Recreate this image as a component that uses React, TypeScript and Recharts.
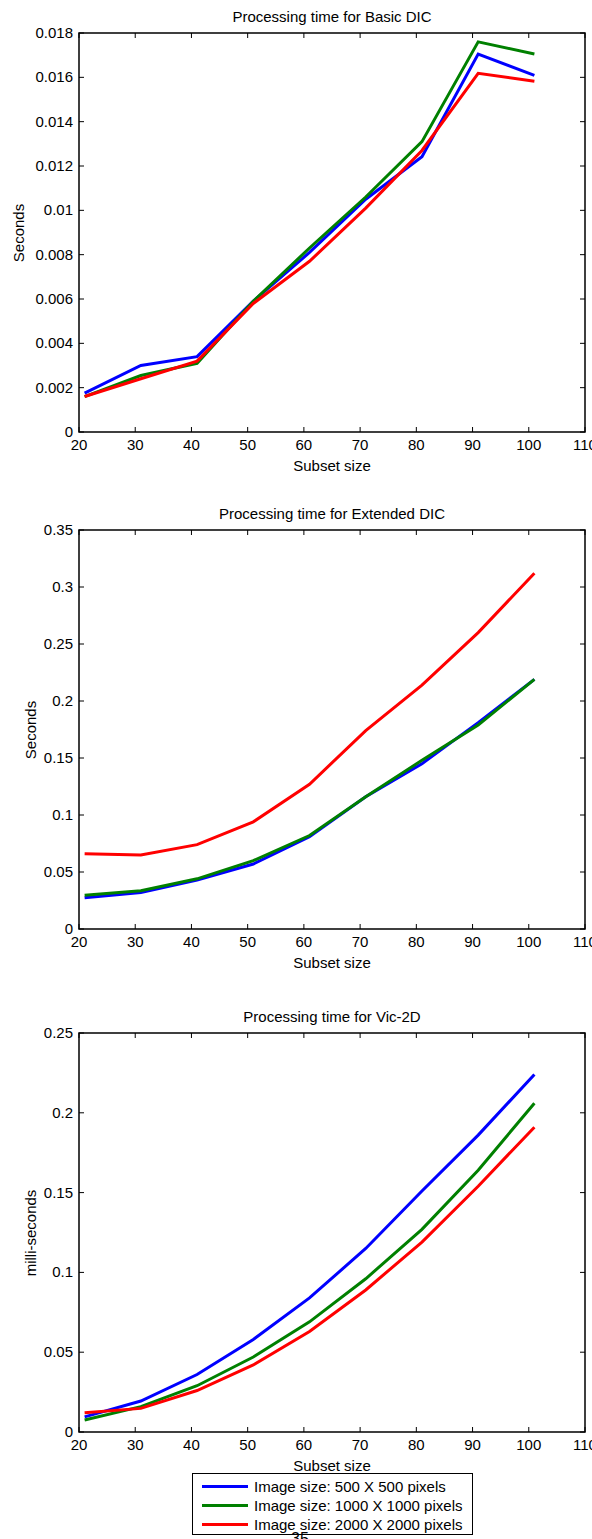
import React from 'react';
import { LineChart, Line, XAxis, YAxis, ReferenceArea } from 'recharts';

// subset sizes used for every run
const subsetSizes = [21, 31, 41, 51, 61, 71, 81, 91, 101];
const xTicks = [20, 30, 40, 50, 60, 70, 80, 90, 100, 110];

const seriesNames = [
  'Image size: 500 X 500 pixels',
  'Image size: 1000 X 1000 pixels',
  'Image size: 2000 X 2000 pixels',
];
const seriesColors = ['#0000ff', '#008000', '#ff0000'];

// Basic DIC (seconds)
const basic500 = [0.00175, 0.003, 0.0034, 0.0059, 0.0081, 0.0105, 0.01242, 0.01705, 0.01609];
const basic1000 = [0.0016, 0.00255, 0.0031, 0.0059, 0.0083, 0.0106, 0.0131, 0.0176, 0.01705];
const basic2000 = [0.0016, 0.0024, 0.0032, 0.0058, 0.0077, 0.0101, 0.0127, 0.01618, 0.01582];
const basicTicks = [0, 0.002, 0.004, 0.006, 0.008, 0.01, 0.012, 0.014, 0.016, 0.018];

// Extended DIC (seconds)
const ext500 = [0.0275, 0.032, 0.043, 0.057, 0.081, 0.116, 0.145, 0.181, 0.219];
const ext1000 = [0.0295, 0.0335, 0.044, 0.06, 0.082, 0.116, 0.148, 0.179, 0.219];
const ext2000 = [0.066, 0.065, 0.074, 0.094, 0.127, 0.174, 0.214, 0.26, 0.312];
const extTicks = [0, 0.05, 0.1, 0.15, 0.2, 0.25, 0.3, 0.35];

// Vic-2D (milli-seconds)
const vic500 = [0.0095, 0.0194, 0.036, 0.058, 0.084, 0.115, 0.151, 0.186, 0.224];
const vic1000 = [0.0075, 0.0159, 0.029, 0.047, 0.069, 0.096, 0.127, 0.164, 0.206];
const vic2000 = [0.012, 0.0148, 0.026, 0.042, 0.063, 0.089, 0.119, 0.154, 0.191];
const vicTicks = [0, 0.05, 0.1, 0.15, 0.2, 0.25];

const FONT = "'Liberation Sans', Arial, Helvetica, sans-serif";
const PLOT_LEFT = 79;
const PLOT_RIGHT = 585;
const PLOT_W = PLOT_RIGHT - PLOT_LEFT;
const TICK_LEN = 5;

const fmt = (v: number) => String(+v.toFixed(4));

interface PanelProps {
  top: number;
  height: number;
  plotTop: number; // relative to panel
  plotHeight: number;
  title: string;
  yLabel: string;
  yLabelX: number;
  series: number[][];
  yTicks: number[];
}

const Panel: React.FC<PanelProps> = ({ top, height, plotTop, plotHeight, title, yLabel, yLabelX, series, yTicks }) => {
  const rows = subsetSizes.map((x, i) => {
    const r: any = { x };
    series.forEach((s, k) => { r['s' + k] = s[i]; });
    return r;
  });
  const yMax = yTicks[yTicks.length - 1];
  const xAxisH = 40;
  const bottom = height - plotTop - plotHeight - xAxisH;

  const XTick = (p: any) => {
    const { x, y, payload } = p;
    return (
      <g>
        <line x1={x} x2={x} y1={y} y2={y - TICK_LEN} stroke="#000" />
        <line x1={x} x2={x} y1={y - plotHeight} y2={y - plotHeight + TICK_LEN} stroke="#000" />
        <text x={x} y={y + 18} textAnchor="middle" fontSize={15} fontFamily={FONT} fill="#000">
          {payload.value}
        </text>
      </g>
    );
  };

  const YTick = (p: any) => {
    const { x, y, payload } = p;
    return (
      <g>
        <line x1={x} x2={x + TICK_LEN} y1={y} y2={y} stroke="#000" />
        <line x1={x + PLOT_W} x2={x + PLOT_W - TICK_LEN} y1={y} y2={y} stroke="#000" />
        <text x={x - 6} y={y + 5} textAnchor="end" fontSize={15} fontFamily={FONT} fill="#000">
          {fmt(payload.value)}
        </text>
      </g>
    );
  };

  const textStyle: React.CSSProperties = {
    position: 'absolute',
    fontFamily: FONT,
    fontSize: 15,
    lineHeight: '15px',
    whiteSpace: 'nowrap',
    color: '#000',
  };

  return (
    <div style={{ position: 'absolute', left: 0, top, width: 592, height }}>
      <LineChart
        width={592}
        height={height}
        data={rows}
        margin={{ top: plotTop, right: 592 - PLOT_RIGHT, left: 0, bottom }}
      >
        <XAxis
          type="number"
          dataKey="x"
          domain={[20, 110]}
          ticks={xTicks}
          interval={0}
          height={xAxisH}
          axisLine={false}
          tickLine={false}
          tickSize={0}
          tickMargin={0}
          tick={XTick}
        />
        <YAxis
          type="number"
          domain={[0, yMax]}
          ticks={yTicks}
          interval={0}
          width={PLOT_LEFT}
          axisLine={false}
          tickLine={false}
          tickSize={0}
          tickMargin={0}
          tick={YTick}
        />
        {series.map((_, k) => (
          <Line
            key={k}
            type="linear"
            dataKey={'s' + k}
            stroke={seriesColors[k]}
            strokeWidth={3}
            dot={false}
            isAnimationActive={false}
          />
        ))}
        <ReferenceArea x1={20} x2={110} y1={0} y2={yMax} fill="none" stroke="#000" strokeWidth={1.5} />
      </LineChart>
      <div style={{ ...textStyle, left: (PLOT_LEFT + PLOT_RIGHT) / 2, top: plotTop - 17, transform: 'translate(-50%, -50%)' }}>
        {title}
      </div>
      <div style={{ ...textStyle, left: (PLOT_LEFT + PLOT_RIGHT) / 2, top: plotTop + plotHeight + 33, transform: 'translate(-50%, -50%)' }}>
        Subset size
      </div>
      <div style={{ ...textStyle, left: yLabelX, top: plotTop + plotHeight / 2, transform: 'translate(-50%, -50%) rotate(-90deg)' }}>
        {yLabel}
      </div>
    </div>
  );
};

const LegendBox: React.FC = () => (
  <div
    style={{
      position: 'absolute',
      left: 192,
      top: 1473,
      width: 279,
      height: 60,
      border: '1px solid #000',
      background: '#fff',
      fontFamily: FONT,
      fontSize: 15,
    }}
  >
    {seriesNames.map((name, k) => (
      <div key={k} style={{ position: 'absolute', left: 0, top: 3 + k * 19, height: 19, display: 'flex', alignItems: 'center', whiteSpace: 'nowrap' }}>
        <span style={{ display: 'inline-block', marginLeft: 9, width: 46, height: 3, background: seriesColors[k] }} />
        <span style={{ marginLeft: 6 }}>{name}</span>
      </div>
    ))}
  </div>
);

const App: React.FC = () => (
  <div style={{ position: 'absolute', left: 0, top: 0, width: 592, height: 1539, background: '#fff', overflow: 'hidden' }}>
    <Panel
      top={0}
      height={480}
      plotTop={33}
      plotHeight={399}
      title="Processing time for Basic DIC"
      yLabel="Seconds"
      yLabelX={18}
      series={[basic500, basic1000, basic2000]}
      yTicks={basicTicks}
    />
    <Panel
      top={500}
      height={480}
      plotTop={30}
      plotHeight={399}
      title="Processing time for Extended DIC"
      yLabel="Seconds"
      yLabelX={30}
      series={[ext500, ext1000, ext2000]}
      yTicks={extTicks}
    />
    <Panel
      top={1000}
      height={480}
      plotTop={33}
      plotHeight={399}
      title="Processing time for Vic-2D"
      yLabel="milli-seconds"
      yLabelX={30}
      series={[vic500, vic1000, vic2000]}
      yTicks={vicTicks}
    />
    <LegendBox />
    <div style={{ position: 'absolute', left: 300, top: 1531, fontFamily: FONT, fontSize: 16, lineHeight: '16px', transform: 'translateX(-50%)' }}>
      35
    </div>
  </div>
);

export default App;
